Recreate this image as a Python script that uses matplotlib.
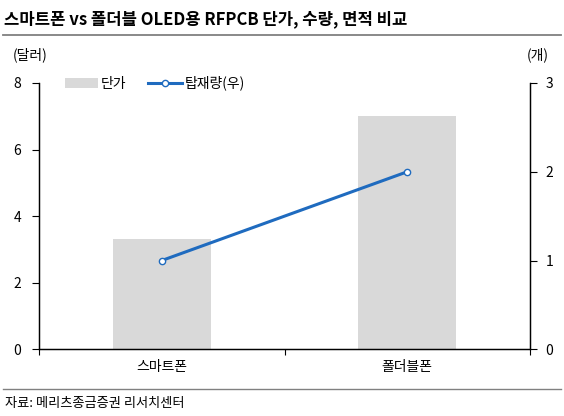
import matplotlib
matplotlib.use("Agg")
import matplotlib.pyplot as plt
from matplotlib.lines import Line2D
from matplotlib.patches import Patch

plt.rcParams['font.family'] = ['Noto Sans CJK KR', 'DejaVu Sans']

categories = ['스마트폰', '폴더블폰']
price = [3.3, 7.0]          # 단가 (달러)
count = [1, 2]              # 탑재량 (개)
left_ticks = [0, 2, 4, 6, 8]
right_ticks = [0, 1, 2, 3]

title = '스마트폰 vs 폴더블 OLED용 RFPCB 단가, 수량, 면적 비교'
source = '자료: 메리츠종금증권 리서치센터'

bar_color = '#d9d9d9'
line_color = '#1f6bbf'

fig = plt.figure(figsize=(5.64, 4.16), dpi=100)
ax = fig.add_axes([39/564, 1-349.3/416, (530-39)/564, (349.3-83)/416])
ax2 = ax.twinx()

x = list(range(len(categories)))
ax.bar(x, price, width=0.40, color=bar_color, zorder=1)
ax2.plot(x, count, color=line_color, lw=2.2, marker='o', ms=4.5,
         mfc='white', mec=line_color, mew=1.0, zorder=3)

ax.set_xlim(-0.5, len(categories) - 0.5)
ax.set_ylim(0, 8)
ax2.set_ylim(0, 3)
ax.set_yticks(left_ticks)
ax2.set_yticks(right_ticks)

ax.set_xticks(x)
ax.set_xticklabels(categories, fontsize=10)
ax.tick_params(axis='x', length=0, pad=8)
ax.set_xticks([i - 0.5 for i in range(len(categories) + 1)], minor=True)
ax.tick_params(axis='x', which='minor', length=4, direction='out', width=0.8)

ax.tick_params(axis='y', direction='out', length=5, width=0.8, labelsize=10, pad=8)
ax2.tick_params(axis='y', direction='out', length=5, width=0.8, labelsize=10, pad=6)

for a in (ax, ax2):
    a.spines['top'].set_visible(False)
    for s in ('left', 'right', 'bottom'):
        a.spines[s].set_linewidth(0.9)
        a.spines[s].set_color('black')

# axis unit labels
fig.text(13/564, 1-55/416, '(달러)', fontsize=10, ha='left', va='center')
fig.text(549/564, 1-55/416, '(개)', fontsize=10, ha='right', va='center')

# legend
handles = [Patch(facecolor=bar_color, edgecolor='none'),
           Line2D([0], [0], color=line_color, lw=2.2, marker='o', ms=4.5,
                  mfc='white', mec=line_color, mew=1.0)]
leg = ax.legend(handles, ['단가', '탑재량(우)'], loc='upper left',
                bbox_to_anchor=(20/491, 1.048), ncol=2, frameon=False,
                fontsize=10, handlelength=2.4, handletextpad=0.2,
                columnspacing=1.6, borderaxespad=0)

# title and rules
fig.text(4/564, 1-19/416, title, fontsize=12, fontweight='bold',
         ha='left', va='center')
fig.add_artist(Line2D([3/564, 561/564], [1-35/416, 1-35/416],
                      color='#808080', lw=1.3, transform=fig.transFigure))
fig.add_artist(Line2D([3/564, 561/564], [1-389/416, 1-389/416],
                      color='#808080', lw=1.0, transform=fig.transFigure))
fig.text(5/564, 1-403/416, source, fontsize=9.5, ha='left', va='center')

fig.savefig('out.png', dpi=100)
